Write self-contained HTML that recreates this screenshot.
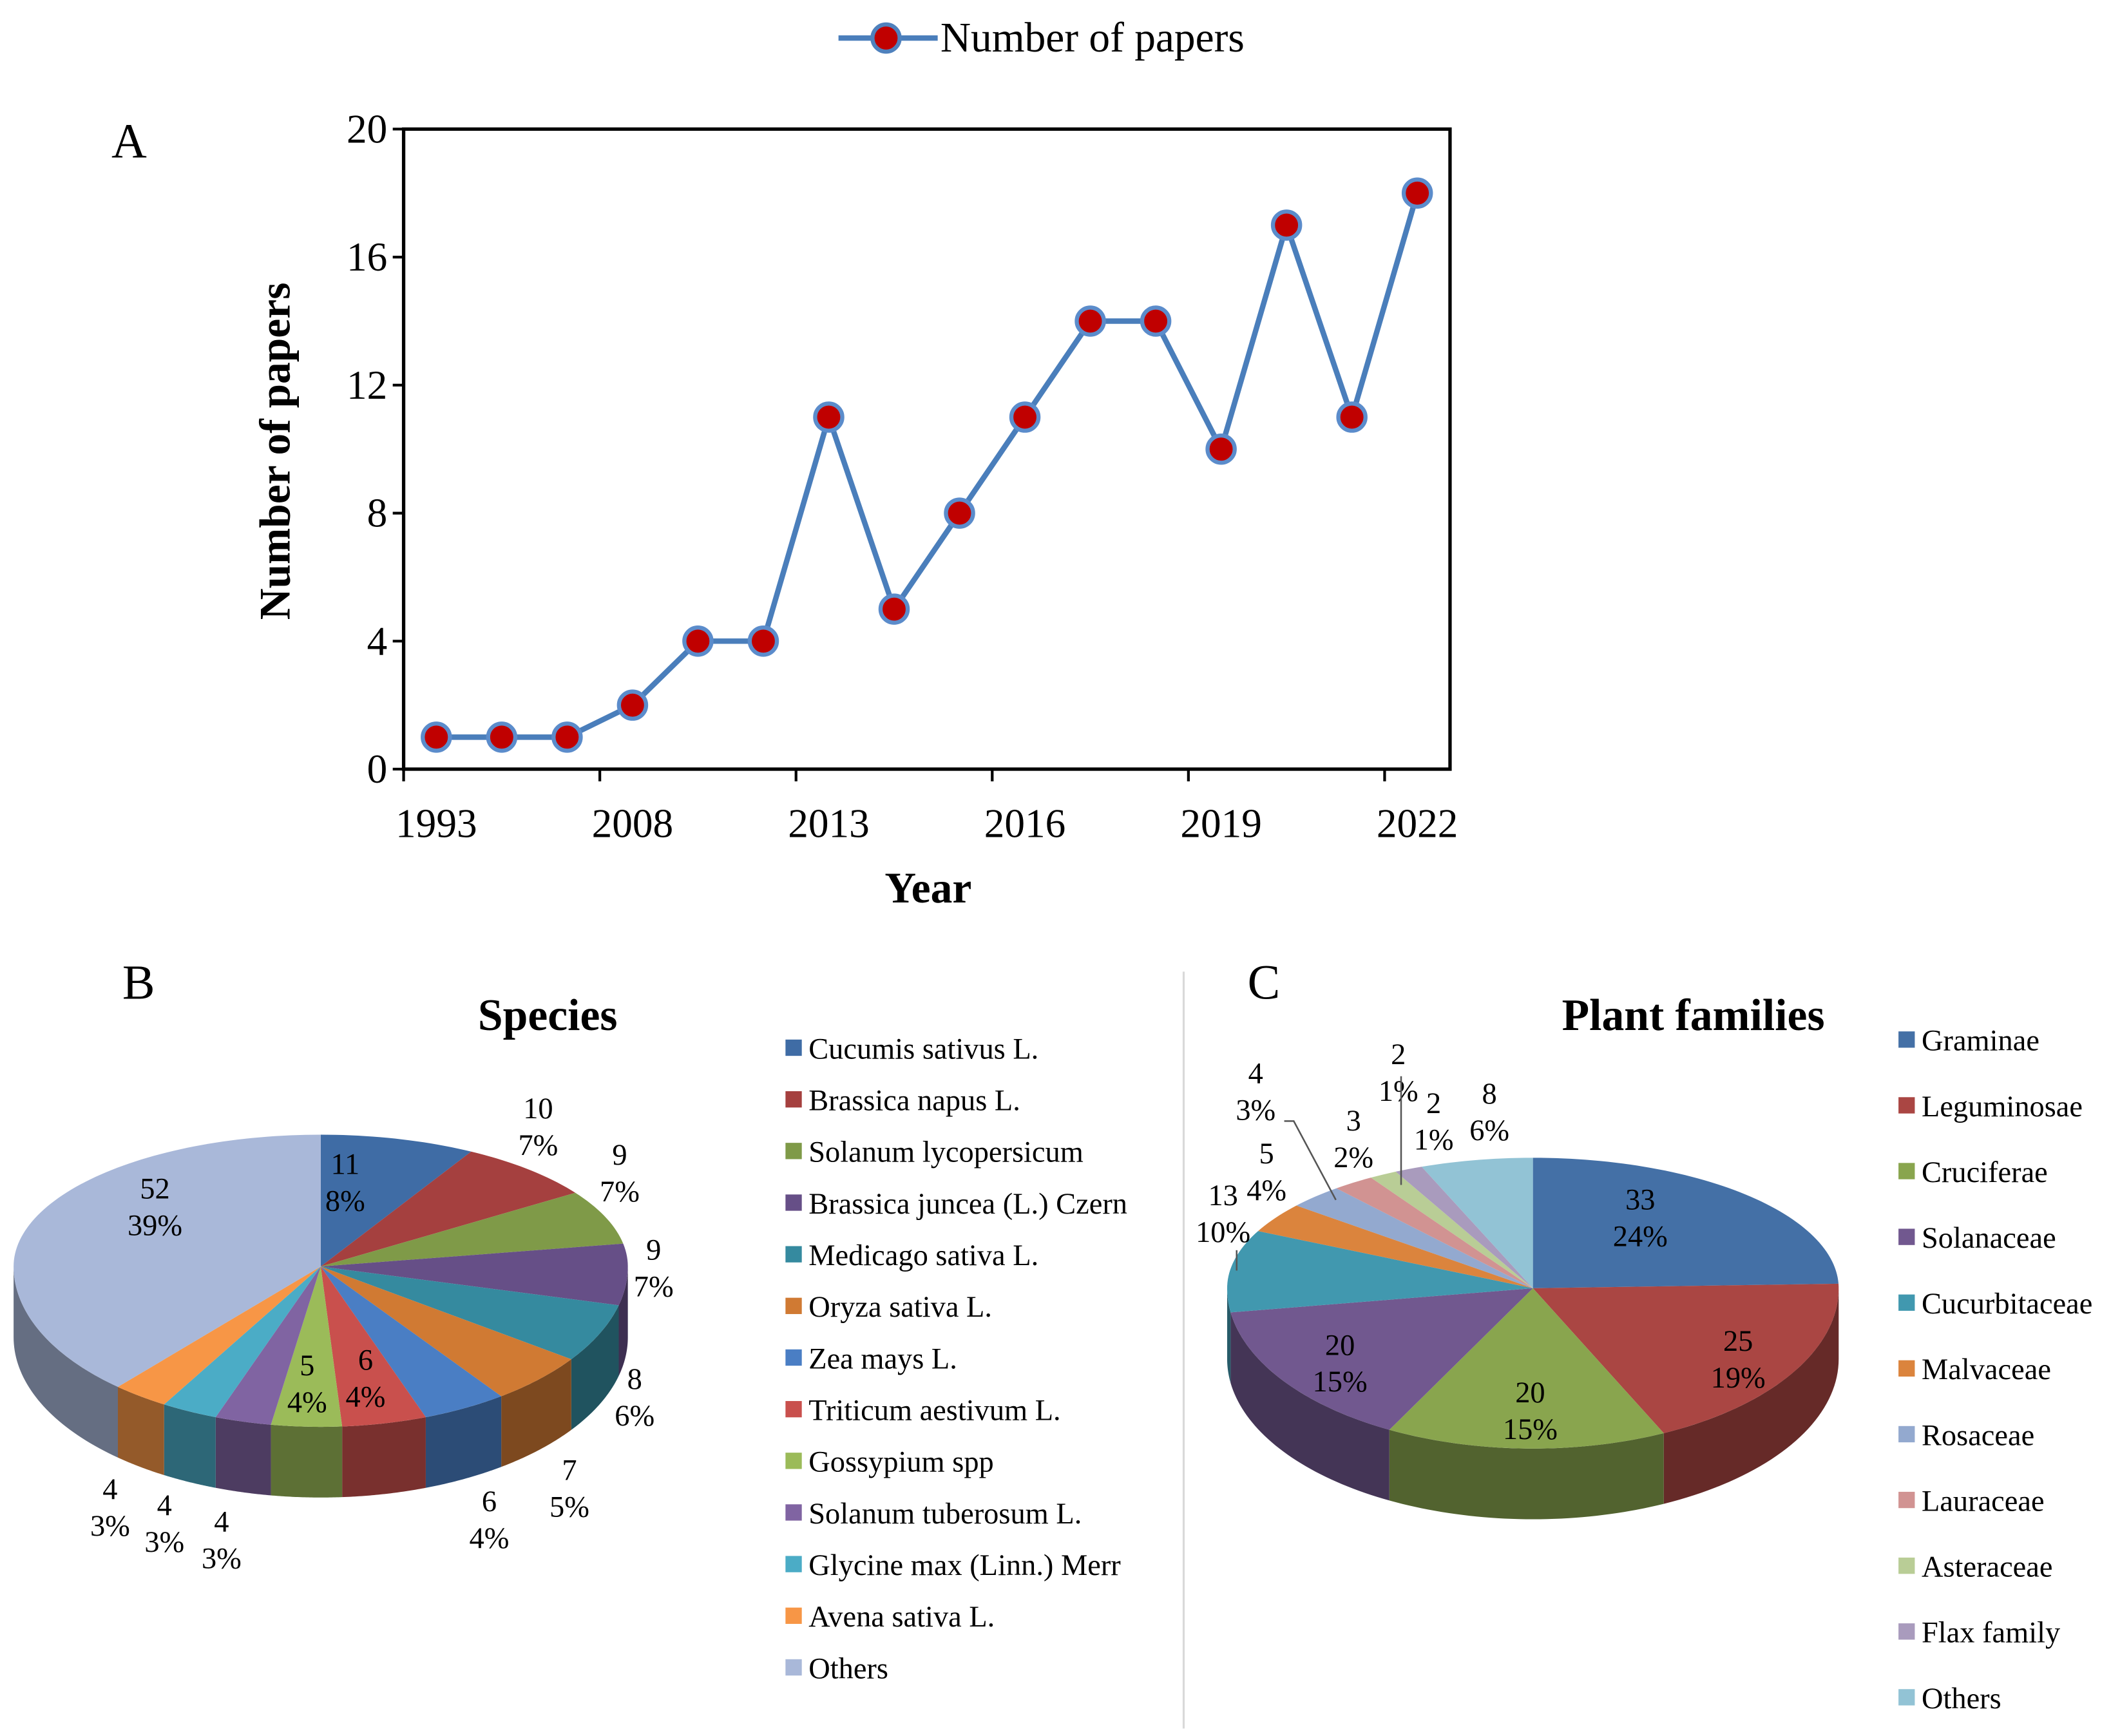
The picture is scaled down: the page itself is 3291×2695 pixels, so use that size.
<!DOCTYPE html>
<html><head><meta charset="utf-8"><style>
html,body{margin:0;padding:0;background:#fff;}
svg{display:block;font-family:"Liberation Serif",serif;}
</style></head><body>
<svg id="fig" width="3291" height="2695" viewBox="0 0 1560 1277.5" xmlns="http://www.w3.org/2000/svg">
<rect x="0" y="0" width="1560" height="1277.5" fill="#fff"/>
<g>
<text x="82" y="116" font-size="36">A</text>
<g>
<line x1="617" y1="28" x2="690" y2="28" stroke="#4A7EBB" stroke-width="4"/>
<circle cx="652" cy="28" r="10" fill="#C00000" stroke="#4F81BD" stroke-width="3"/>
<text x="692" y="38" font-size="31">Number of papers</text>
</g>
<g id="lineChart"></g>
<text transform="translate(213,332) rotate(-90)" text-anchor="middle" font-size="32" font-weight="bold">Number of papers</text>
<text x="683" y="664" text-anchor="middle" font-size="32" font-weight="bold">Year</text>
</g>
<line x1="871" y1="715" x2="871" y2="1272" stroke="#d9d9d9" stroke-width="1.5"/>
<g>
<text x="90" y="735" font-size="36">B</text>
<text x="403" y="758" text-anchor="middle" font-size="33" font-weight="bold">Species</text>
<g id="pieB"></g>
<g id="legB"></g>
</g>
<g>
<text x="918" y="735" font-size="36">C</text>
<text x="1246" y="758" text-anchor="middle" font-size="33" font-weight="bold">Plant families</text>
<g id="pieC"></g>
<g id="legC"></g>
</g>
</svg>
<script>
// ---- line chart data ----
const yearLabels = ["1993","","","2008","","","2013","","","2016","","","2019","","","2022"];
const paperCounts = [1,1,1,2,4,4,11,5,8,11,14,14,10,17,11,18];
const yTicks = [0,4,8,12,16,20];
// ---- species pie data ----
const speciesNames = ["Cucumis sativus L.","Brassica napus L.","Solanum lycopersicum","Brassica juncea (L.) Czern","Medicago sativa L.","Oryza sativa L.","Zea mays L.","Triticum aestivum L.","Gossypium spp","Solanum tuberosum L.","Glycine max (Linn.) Merr","Avena sativa L.","Others"];
const speciesValues = [11,10,9,9,8,7,6,6,5,4,4,4,52];
const speciesPct = ["8%","7%","7%","7%","6%","5%","4%","4%","4%","3%","3%","3%","39%"];
const speciesColors = ["#3F6CA5","#A5403F","#7F9A48","#664F87","#358A9F","#D07A33","#4A7EC4","#C9504D","#9BBB59","#8064A2","#4BACC6","#F79646","#A9B8D9"];
// ---- family pie data ----
const familyNames = ["Graminae","Leguminosae","Cruciferae","Solanaceae","Cucurbitaceae","Malvaceae","Rosaceae","Lauraceae","Asteraceae","Flax family","Others"];
const familyValues = [33,25,20,20,13,5,4,3,2,2,8];
const familyPct = ["24%","19%","15%","15%","10%","4%","3%","2%","1%","1%","6%"];
const familyColors = ["#4470A6","#AA4643","#89A54E","#71588F","#4198AF","#DB843D","#93A9CF","#D19392","#B9CD96","#A99BBD","#92C3D5"];

const NS="http://www.w3.org/2000/svg";
function mk(tag,parent){const e=document.createElementNS(NS,tag);parent.appendChild(e);return e;}

// ---- line chart ----
(function(){
 const g=document.getElementById('lineChart');
 const L=297,R=1067,T=95,B=566, n=paperCounts.length, band=(R-L)/n;
 const xs=i=>L+(i+0.5)*band;
 const ys=v=>B-(v/20)*(B-T);
 const frame=mk('rect',g);
 
 
 frame.setAttribute('x',L);frame.setAttribute('y',T);frame.setAttribute('width',R-L);frame.setAttribute('height',B-T);
 frame.setAttribute('fill','none');frame.setAttribute('stroke','#000');frame.setAttribute('stroke-width','2.5');
 yTicks.forEach(v=>{
  const t=mk('line',g);t.setAttribute('x1',L-8);t.setAttribute('x2',L);t.setAttribute('y1',ys(v));t.setAttribute('y2',ys(v));t.setAttribute('stroke','#000');t.setAttribute('stroke-width','2');
  const tx=mk('text',g);
  
  
  tx.setAttribute('x',L-12);tx.setAttribute('y',ys(v)+10);tx.setAttribute('text-anchor','end');tx.setAttribute('font-size','30');tx.textContent=v;
 });
 for(let i=0;i<=n;i+=3){
  const x=L+i*band;
  const t=mk('line',g);t.setAttribute('x1',x);t.setAttribute('x2',x);t.setAttribute('y1',B);t.setAttribute('y2',B+9);t.setAttribute('stroke','#000');t.setAttribute('stroke-width','2');
 }
 yearLabels.forEach((lab,i)=>{
  if(!lab)return;
  const tx=mk('text',g);
  
  
  tx.setAttribute('x',xs(i));tx.setAttribute('y',B+50);tx.setAttribute('text-anchor','middle');tx.setAttribute('font-size','30');tx.textContent=lab;
 });
 const pl=mk('polyline',g);
 
 
 pl.setAttribute('points',paperCounts.map((v,i)=>xs(i)+','+ys(v)).join(' '));
 pl.setAttribute('fill','none');pl.setAttribute('stroke','#4A7EBB');pl.setAttribute('stroke-width','4');
 paperCounts.forEach((v,i)=>{
  const c=mk('circle',g);
  
  
  c.setAttribute('cx',xs(i));c.setAttribute('cy',ys(v));c.setAttribute('r','10');c.setAttribute('fill','#C00000');c.setAttribute('stroke','#5B8CCB');c.setAttribute('stroke-width','3');
 });
})();

function shade(hex,f){const n=parseInt(hex.slice(1),16);const r=(n>>16)&255,g=(n>>8)&255,b=n&255;return `rgb(${Math.round(r*f)},${Math.round(g*f)},${Math.round(b*f)})`;}

function pie3d(g,vals,colors,cx,cy,rx,ryB,ryF,depth,name){
 const tot=vals.reduce((a,b)=>a+b,0);
 const pt=(a,dy)=>{const c=Math.cos(a);const ry=c>0?ryB:ryF;return [cx+rx*Math.sin(a),cy-ry*c+(dy||0)];};
 let a0=0;const segs=[];
 vals.forEach((v,i)=>{const a1=a0+v/tot*2*Math.PI;segs.push([a0,a1]);a0=a1;});
 // sides
 segs.forEach(([s,e],i)=>{
  const lo=Math.max(s,Math.PI/2),hi=Math.min(e,3*Math.PI/2);
  if(hi<=lo)return;
  const N=40;let top=[],bot=[];
  for(let k=0;k<=N;k++){const a=lo+(hi-lo)*k/N;top.push(pt(a,0));bot.push(pt(a,depth));}
  const p=mk('polygon',g);
  
  
  p.setAttribute('points',top.concat(bot.reverse()).map(q=>q.join(',')).join(' '));
  p.setAttribute('fill',shade(colors[i],0.6));
 });
 segs.forEach(([s,e],i)=>{
  const N=Math.max(4,Math.ceil((e-s)*40));let pts=[[cx,cy]];
  for(let k=0;k<=N;k++)pts.push(pt(s+(e-s)*k/N,0));
  const p=mk('polygon',g);
  
  
  p.setAttribute('points',pts.map(q=>q.join(',')).join(' '));
  p.setAttribute('fill',colors[i]);
 });
}
function lbl(g,x,y,v,pct,name){
 const t=mk('text',g);
 
 
 t.setAttribute('x',x);t.setAttribute('y',y);t.setAttribute('text-anchor','middle');t.setAttribute('font-size','22');
 t.textContent=v;
 const t2=mk('text',g);
 
 
 t2.setAttribute('x',x);t2.setAttribute('y',y+27);t2.setAttribute('text-anchor','middle');t2.setAttribute('font-size','22');
 t2.textContent=pct;
}
function legend(g,names,colors,x,y0,step){
 names.forEach((nm,i)=>{
  const y=y0+i*step;
  const r=mk('rect',g);
  
  
  r.setAttribute('x',x);r.setAttribute('y',y-6);r.setAttribute('width',12);r.setAttribute('height',12);r.setAttribute('fill',colors[i]);
  const t=mk('text',g);
  
  
  t.setAttribute('x',x+17);t.setAttribute('y',y+8);t.setAttribute('font-size','22');t.textContent=nm;
 });
}
const gB=document.getElementById('pieB');
pie3d(gB,speciesValues,speciesColors,236,932,226,97,118,52,'species');
const posB=[[254,864],[396,823],[456,857],[481,927],[467,1022],[419,1089],[360,1112],[269,1008],[226,1012],[163,1127],[121,1115],[81,1103],[114,882]];
speciesValues.forEach((v,i)=>lbl(gB,posB[i][0],posB[i][1],v,speciesPct[i],'species-data-label'));
legend(document.getElementById('legB'),speciesNames,speciesColors,578,771,38);

const gC=document.getElementById('pieC');
pie3d(gC,familyValues,familyColors,1128,948,225,96,118,52,'family');
const posC=[[1207,890],[1279,994],[1126,1032],[986,997],[900,887],[932,856],[924,797],[996,832],[1029,783],[1055,819],[1096,812]];
familyValues.forEach((v,i)=>lbl(gC,posC[i][0],posC[i][1],v,familyPct[i],'family-data-label'));
[[ [910,920],[910,935] ],[ [945,825],[952,825],[983,883] ],[ [1031,792],[1031,872] ]].forEach(pl=>{
 const l=mk('polyline',gC);
 
 
 l.setAttribute('points',pl.map(q=>q.join(',')).join(' '));l.setAttribute('fill','none');l.setAttribute('stroke','#555');l.setAttribute('stroke-width','1.2');
});
legend(document.getElementById('legC'),familyNames,familyColors,1397,765,48.4);
</script>
</body></html>
